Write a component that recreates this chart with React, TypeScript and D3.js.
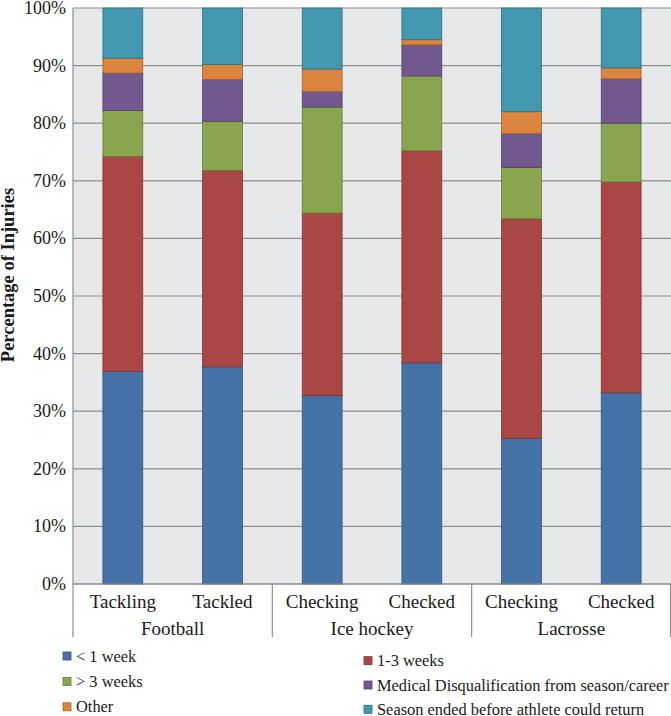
import React from "react";
import * as d3 from "d3";

const sports = ["Football", "Ice hockey", "Lacrosse"];
const bars = ["Tackling", "Tackled", "Checking", "Checked", "Checking", "Checked"];
const seriesNames = [
  "< 1 week",
  "1-3 weeks",
  "> 3 weeks",
  "Medical Disqualification from season/career",
  "Other",
  "Season ended before athlete could return",
];
const lessThan1Week = [36.9, 37.7, 32.7, 38.4, 25.3, 33.2];
const oneToThreeWeeks = [37.3, 34.1, 31.7, 36.8, 38.1, 36.6];
const moreThan3Weeks = [8.0, 8.5, 18.4, 13.0, 8.9, 10.2];
const medicalDQ = [6.5, 7.3, 2.7, 5.4, 5.9, 7.7];
const other = [2.6, 2.6, 3.9, 0.9, 3.8, 1.9];
const seasonEnded = [8.7, 9.8, 10.6, 5.5, 18.0, 10.4];
const yTicks = [0, 10, 20, 30, 40, 50, 60, 70, 80, 90, 100];

const colors = ["#4572A7", "#AA4643", "#89A54E", "#71588F", "#DB843D", "#4198AF"];
const strokes = ["#34557c", "#7e3432", "#66793a", "#54416a", "#a2622d", "#307082"];

const W = 671;
const H = 716;
const left = 73;
const right = 671;
const top = 8;
const bottom = 584;

function T(props: any) {
  const { children, size, bold, ...rest } = props;
  return (
    <text
      fill="#1a1a1a"
      fontSize={size}
      fontWeight={bold ? "bold" : "normal"}
      fontFamily="Liberation Serif"
      style={{ fontFamily: "Liberation Serif", fontSize: size + "px" }}
      {...rest}
    >
      {children}
    </text>
  );
}

export default function App() {
  const seriesData = [lessThan1Week, oneToThreeWeeks, moreThan3Weeks, medicalDQ, other, seasonEnded];
  const keys = seriesNames.map((_, i) => "s" + i);
  const rows = bars.map((b, i) => {
    const r: any = { idx: i };
    keys.forEach((k, j) => (r[k] = seriesData[j][i]));
    return r;
  });
  const stacked = d3.stack().keys(keys)(rows);

  const x = d3
    .scaleBand<number>()
    .domain(bars.map((_, i) => i))
    .range([left, right])
    .paddingInner(0.6)
    .paddingOuter(0.3);
  const y = d3.scaleLinear().domain([0, 100]).range([bottom, top]);
  const step = x.step();
  const groupStart = (g: number) => left + g * 2 * step;

  const legendLeft = [0, 2, 4];
  const legendRight = [1, 3, 5];

  return (
    <svg width={W} height={H} style={{ position: "absolute", left: 0, top: 0 }}>
      <rect x={0} y={0} width={W} height={H} fill="#ffffff" />
      <rect x={left} y={top} width={right - left} height={bottom - top} fill="#e7e8ea" />
      {yTicks.map((t) => (
        <g key={t}>
          <line x1={left} x2={right} y1={y(t)} y2={y(t)} stroke="#8e8e8e" strokeWidth={1.2} />
          <T x={66} y={y(t) + 6} textAnchor="end" size={18}>
            {t}%
          </T>
        </g>
      ))}
      <line x1={left} x2={left} y1={top} y2={bottom} stroke="#8e8e8e" strokeWidth={1.2} />
      {stacked.map((s, si) => (
        <g key={si}>
          {s.map((d: any, i: number) => (
            <rect
              key={i}
              x={x(i)!}
              y={y(d[1])}
              width={x.bandwidth()}
              height={y(d[0]) - y(d[1])}
              fill={colors[si]}
              stroke={strokes[si]}
              strokeWidth={0.8}
            />
          ))}
        </g>
      ))}
      {[0, 1, 2, 3].map((g) => (
        <line
          key={g}
          x1={Math.min(groupStart(g), right - 0.5)}
          x2={Math.min(groupStart(g), right - 0.5)}
          y1={bottom}
          y2={637}
          stroke="#8e8e8e"
          strokeWidth={1.2}
        />
      ))}
      <line x1={left} x2={right} y1={bottom} y2={bottom} stroke="#8e8e8e" strokeWidth={1.2} />
      {bars.map((b, i) => (
        <T key={i} x={x(i)! + x.bandwidth() / 2} y={608} textAnchor="middle" size={19}>
          {b}
        </T>
      ))}
      {sports.map((s, g) => (
        <T key={s} x={groupStart(g) + step} y={635} textAnchor="middle" size={19}>
          {s}
        </T>
      ))}
      <T transform={`translate(14, 275) rotate(-90)`} textAnchor="middle" size={18.5} bold>
        Percentage of Injuries
      </T>
      {legendLeft.map((si, r) => (
        <g key={si} transform={`translate(63, ${656 + r * 25.4})`}>
          <rect x={0} y={-4} width={8} height={8} fill={colors[si]} stroke={strokes[si]} strokeWidth={0.8} />
          <T x={13} y={5.5} size={16.4}>
            {seriesNames[si]}
          </T>
        </g>
      ))}
      {legendRight.map((si, r) => (
        <g key={si} transform={`translate(364, ${660.7 + r * 24.3})`}>
          <rect x={0} y={-4} width={8} height={8} fill={colors[si]} stroke={strokes[si]} strokeWidth={0.8} />
          <T x={13} y={5.5} size={16.4}>
            {seriesNames[si]}
          </T>
        </g>
      ))}
    </svg>
  );
}
